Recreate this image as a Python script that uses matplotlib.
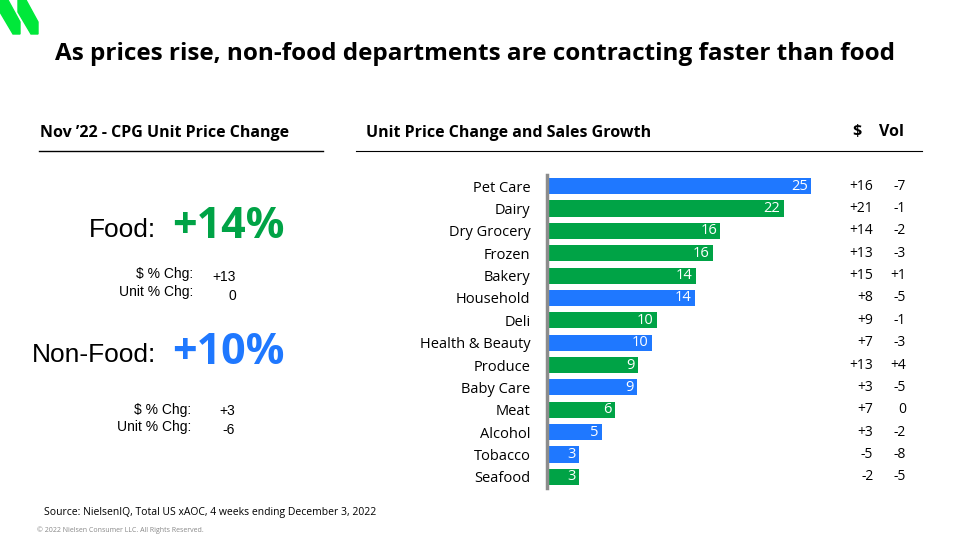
import matplotlib
matplotlib.use("Agg")
import matplotlib.pyplot as plt
from matplotlib.patches import Polygon

categories = ["Pet Care","Dairy","Dry Grocery","Frozen","Bakery","Household","Deli",
              "Health & Beauty","Produce","Baby Care","Meat","Alcohol","Tobacco","Seafood"]
price_chg = [25.0, 22.4, 16.4, 15.7, 14.1, 14.0, 10.4, 9.9, 8.6, 8.5, 6.4, 5.2, 3.0, 3.0]
price_labels = ["25","22","16","16","14","14","10","10","9","9","6","5","3","3"]
is_food = [False, True, True, True, True, False, True, False, True, False, True, False, False, True]
dollar_chg = ["+16","+21","+14","+13","+15","+8","+9","+7","+13","+3","+7","+3","-5","-2"]
vol_chg = ["-7","-1","-2","-3","+1","-5","-1","-3","+4","-5","0","-2","-8","-5"]

GREEN = "#00a346"; BLUE = "#1f78ff"
FONT = ["Open Sans", "DejaVu Sans"]
plt.rcParams['font.family'] = FONT

W, H = 960, 540
fig = plt.figure(figsize=(9.6, 5.4), dpi=100)

def fx(x): return x / W
def fy(y): return 1 - y / H

# logo
for x0 in (0, 18):
    fig.patches.append(Polygon([(fx(x0), fy(0)), (fx(x0+8), fy(0)), (fx(x0+20), fy(22)), (fx(x0+20), fy(34)), (fx(x0+13), fy(34)), (fx(x0), fy(12))],
                               closed=True, transform=fig.transFigure, color="#00e83a"))

fig.text(fx(475), fy(54), "As prices rise, non-food departments are contracting faster than food",
         ha="center", va="center", fontsize=17.5, fontweight="bold")

fig.text(fx(40), fy(133), "Nov \u201922 - CPG Unit Price Change", ha="left", va="center", fontsize=11.5, fontweight="bold")
fig.add_artist(plt.Line2D([fx(39), fx(323)], [fy(151), fy(151)], color="black", lw=1))
fig.text(fx(366), fy(133), "Unit Price Change and Sales Growth", ha="left", va="center", fontsize=11.5, fontweight="bold")
fig.text(fx(857), fy(132), "$", ha="center", va="center", fontsize=11.5, fontweight="bold")
fig.text(fx(891), fy(132), "Vol", ha="center", va="center", fontsize=11.5, fontweight="bold")
fig.add_artist(plt.Line2D([fx(356), fx(922)], [fy(151), fy(151)], color="black", lw=0.8))

ARIAL = ["Liberation Sans", "DejaVu Sans"]
fig.text(fx(156), fy(230), "Food:", ha="right", va="center", fontsize=19, family=ARIAL)
fig.text(fx(172), fy(227), "+14%", ha="left", va="center", fontsize=31, fontweight="bold", color=GREEN)
fig.text(fx(193), fy(274), "$ % Chg:", ha="right", va="center", fontsize=10, family=ARIAL)
fig.text(fx(193), fy(292), "Unit % Chg:", ha="right", va="center", fontsize=10, family=ARIAL)
fig.text(fx(236), fy(277), "+13", ha="right", va="center", fontsize=10, family=ARIAL)
fig.text(fx(236), fy(296), "0", ha="right", va="center", fontsize=10, family=ARIAL)

fig.text(fx(156), fy(355), "Non-Food:", ha="right", va="center", fontsize=19, family=ARIAL)
fig.text(fx(172), fy(353), "+10%", ha="left", va="center", fontsize=31, fontweight="bold", color=BLUE)
fig.text(fx(191), fy(410), "$ % Chg:", ha="right", va="center", fontsize=10, family=ARIAL)
fig.text(fx(191), fy(427), "Unit % Chg:", ha="right", va="center", fontsize=10, family=ARIAL)
fig.text(fx(235), fy(411), "+3", ha="right", va="center", fontsize=10, family=ARIAL)
fig.text(fx(235), fy(430), "-6", ha="right", va="center", fontsize=10, family=ARIAL)

fig.text(fx(44), fy(512), "Source: NielsenIQ, Total US xAOC, 4 weeks ending December 3, 2022", ha="left", va="center", fontsize=7.5)
fig.text(fx(37), fy(530), "\u00a9 2022 Nielsen Consumer LLC. All Rights Reserved.", ha="left", va="center", fontsize=5, color="#888888")

# bar chart
top, bot = 175, 488
ax = fig.add_axes([fx(547), fy(bot), (811 - 547) / W, (bot - top) / H])
n = len(categories)
ys = list(range(n))
colors = [GREEN if f else BLUE for f in is_food]
ax.barh(ys, price_chg, height=0.72, color=colors)
ax.set_ylim(n - 0.5, -0.5)
ax.set_xlim(0, 25)
for s in ("top", "right", "bottom"):
    ax.spines[s].set_visible(False)
ax.spines["left"].set_color("#8c8c8c")
ax.spines["left"].set_linewidth(2.5)
ax.set_xticks([])
ax.set_yticks(ys)
ax.set_yticklabels(categories, fontsize=10.5)
ax.tick_params(axis="y", length=0, pad=12)
for y, v, lab in zip(ys, price_chg, price_labels):
    ax.text(v - 0.3, y, lab, ha="right", va="center", color="white", fontsize=10.5)

for y, d, vl in zip(ys, dollar_chg, vol_chg):
    ax.text(30.9, y, d, ha="right", va="center", fontsize=10, clip_on=False)
    ax.text(34.0, y, vl, ha="right", va="center", fontsize=10, clip_on=False)

fig.savefig("out.png", dpi=100)
